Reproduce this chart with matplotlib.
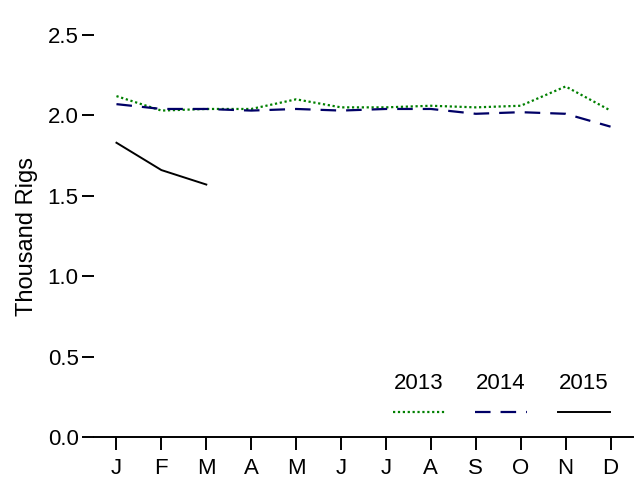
import matplotlib
matplotlib.use('Agg')
import matplotlib.pyplot as plt
from matplotlib.lines import Line2D

plt.rcParams['font.family'] = ['Liberation Sans', 'DejaVu Sans']
plt.rcParams['font.size'] = 16

months = ['J', 'F', 'M', 'A', 'M', 'J', 'J', 'A', 'S', 'O', 'N', 'D']
rigs_2013 = [2.12, 2.03, 2.04, 2.04, 2.10, 2.05, 2.05, 2.06, 2.05, 2.06, 2.18, 2.03]
rigs_2014 = [2.07, 2.04, 2.04, 2.03, 2.04, 2.03, 2.04, 2.04, 2.01, 2.02, 2.01, 1.93]
rigs_2015 = [1.83, 1.66, 1.57]
years = ['2013', '2014', '2015']

fig = plt.figure(figsize=(6.35, 4.78), dpi=100)
ax = fig.add_axes([94 / 635, 1 - 437 / 478, (633 - 94) / 635, (437 - 35) / 478])

x = list(range(len(months)))
styles = [dict(color='#008000', linestyle=(0, (1, 1.2)), lw=1.6),
          dict(color='#000066', linestyle=(0, (7, 4.5)), lw=1.6),
          dict(color='black', linestyle='-', lw=1.4)]

ax.plot(x, rigs_2013, **styles[0])
ax.plot(x, rigs_2014, **styles[1])
ax.plot(x[:len(rigs_2015)], rigs_2015, **styles[2])

ax.set_xlim(-0.5, 11.5)
ax.set_ylim(0, 2.5)
ax.set_xticks(x)
ax.set_xticklabels(months)
ax.set_yticks([0, 0.5, 1.0, 1.5, 2.0, 2.5])
ax.set_yticklabels(['0.0', '0.5', '1.0', '1.5', '2.0', '2.5'])
ax.set_ylabel('Thousand Rigs', fontsize=17, labelpad=7)

for s in ['top', 'right', 'left']:
    ax.spines[s].set_visible(False)
ax.spines['bottom'].set_linewidth(1.4)
ax.tick_params(axis='both', direction='out', length=9, width=1.4)
ax.tick_params(axis='x', pad=6)
ax.tick_params(axis='y', pad=2)

# legend: year label above a line sample
lx = [0.555, 0.707, 0.86]
for i, yr in enumerate(years):
    ax.text(lx[i] + 0.048, 0.108, yr, transform=ax.transAxes, ha='center', va='bottom')
    ax.add_line(Line2D([lx[i], lx[i] + 0.097], [0.063, 0.063], transform=ax.transAxes,
                       **styles[i]))

fig.savefig('out.png', dpi=100)
